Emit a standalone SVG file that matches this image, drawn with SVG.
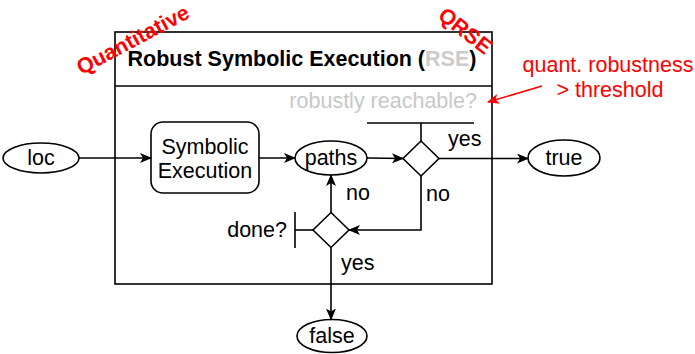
<svg xmlns="http://www.w3.org/2000/svg" width="695" height="354" viewBox="0 0 695 354">
<defs>
<marker id="ah" viewBox="0 0 12 10" refX="11" refY="5" markerWidth="12" markerHeight="10" markerUnits="userSpaceOnUse" orient="auto">
<path d="M0,0 L12,5 L0,10 L3,5 z" fill="#000"/>
</marker>
<marker id="ahr" viewBox="0 0 12 10" refX="11" refY="5" markerWidth="12" markerHeight="10" markerUnits="userSpaceOnUse" orient="auto">
<path d="M0,0 L12,5 L0,10 L3,5 z" fill="#ff0000"/>
</marker>
<style>
text{font-family:"Liberation Sans",Arial,sans-serif;font-size:21.5px;fill:#000}
.shape{fill:#fff;stroke:#000;stroke-width:1.6}
.ln{fill:none;stroke:#000;stroke-width:1.6}
.arr{fill:none;stroke:#000;stroke-width:1.6;marker-end:url(#ah)}
.red{fill:#ff0000;font-weight:bold}
.ann{fill:#ff0000}
.c{text-anchor:middle}
</style>
</defs>
<rect width="695" height="354" fill="#fff"/>
<g id="rse-box">
<rect x="115" y="32" width="377" height="252" fill="none" stroke="#000" stroke-width="1.6"/>
<line x1="115" y1="86" x2="492" y2="86" stroke="#000" stroke-width="1.6"/>
<text x="302" y="66" class="c" font-weight="bold">Robust Symbolic Execution (<tspan style="fill:#cccccc">RSE</tspan>)</text>
</g>
<g id="label-quantitative"><text class="red c" font-size="20" transform="translate(133,40) rotate(-28)" y="7">Quantitative</text></g>
<g id="label-qrse"><text class="red c" font-size="20" transform="translate(465,31) rotate(38)" y="7">QRSE</text></g>
<g id="loc"><ellipse class="shape" cx="41" cy="158" rx="38" ry="15"/><text x="41" y="165" class="c">loc</text></g>
<g id="symex"><rect class="shape" x="151" y="122" width="108" height="71" rx="12"/><text x="205" y="154" class="c">Symbolic</text><text x="205" y="178" class="c">Execution</text></g>
<g id="paths"><ellipse class="shape" cx="331" cy="158" rx="36" ry="17"/><text x="331" y="165" class="c">paths</text></g>
<g id="reach-decision">
<line class="ln" x1="367" y1="123" x2="474" y2="123"/>
<line class="ln" x1="421" y1="123" x2="421" y2="141"/>
<polygon class="shape" points="421,141 439,158.5 421,176 403,158.5"/>
<text x="477" y="108" text-anchor="end" style="fill:#c8c8c8">robustly reachable?</text>
</g>
<g id="done-decision">
<line class="ln" x1="295" y1="212" x2="295" y2="248"/>
<line class="ln" x1="295" y1="230" x2="313" y2="230"/>
<polygon class="shape" points="331,212.5 349,230 331,247.5 313,230"/>
<text x="287" y="237" text-anchor="end">done?</text>
</g>
<g id="true"><ellipse class="shape" cx="564" cy="158" rx="36" ry="18"/><text x="564" y="165" class="c">true</text></g>
<g id="false"><ellipse class="shape" cx="332" cy="336" rx="35" ry="16.5"/><text x="332" y="343" class="c">false</text></g>
<g id="connectors">
<line class="arr" x1="79" y1="158" x2="151" y2="158"/>
<line class="arr" x1="259" y1="158" x2="295" y2="158"/>
<line class="arr" x1="367" y1="158" x2="403" y2="158.5"/>
<line class="arr" x1="439" y1="158.5" x2="528" y2="158.5"/>
<polyline class="arr" points="421,176 421,230 349,230"/>
<line class="arr" x1="331" y1="212.5" x2="331" y2="175"/>
<line class="arr" x1="331" y1="247.5" x2="331" y2="319.5"/>
<text x="448" y="146">yes</text>
<text x="426" y="201">no</text>
<text x="346" y="200">no</text>
<text x="341" y="270">yes</text>
</g>
<g id="annotation">
<text x="608" y="72" class="c ann">quant. robustness</text>
<text x="610" y="97" class="c ann">&gt; threshold</text>
<line x1="542" y1="86" x2="488" y2="102" stroke="#ff0000" stroke-width="1.6" marker-end="url(#ahr)"/>
</g>
</svg>
